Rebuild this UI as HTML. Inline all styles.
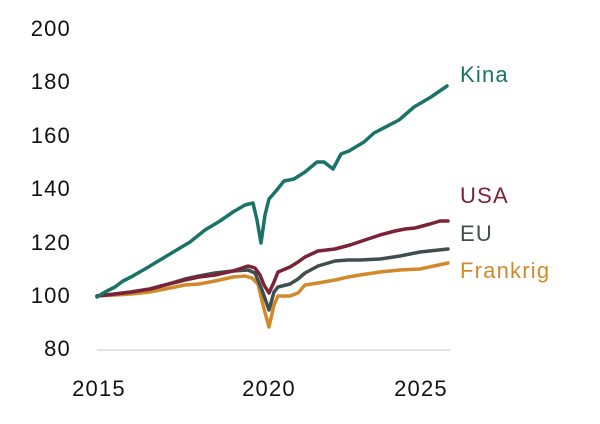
<!DOCTYPE html>
<html><head><meta charset="utf-8"><style>
html,body{margin:0;padding:0;background:#fff;}
svg{display:block;font-family:"Liberation Sans","DejaVu Sans",sans-serif;}
</style></head><body>
<svg width="600" height="424" viewBox="0 0 600 424" xmlns="http://www.w3.org/2000/svg">
<g font-size="22" fill="#111" text-anchor="end" letter-spacing="1.2">
<text x="71" y="36">200</text>
<text x="71" y="89">180</text>
<text x="71" y="143">160</text>
<text x="71" y="196">140</text>
<text x="71" y="250">120</text>
<text x="71" y="303">100</text>
<text x="71" y="356">80</text>
</g>
<line x1="97" y1="350" x2="450" y2="350" stroke="#d8d8d8" stroke-width="1.5"/>
<g font-size="22" fill="#111" text-anchor="middle" letter-spacing="1.2">
<text x="99" y="396">2015</text>
<text x="269" y="396">2020</text>
<text x="421" y="396">2025</text>
</g>
<g fill="none" stroke-width="3.5" stroke-linejoin="round" stroke-linecap="round">
<polyline stroke="#d18a2a" points="97,296 115,295 131,294 150,292 165,289 185,285 199,284 215,281 233,277 245,276 252,278 258,284 263,305 269,327 274,305 278,296 290,296 298,293 305,285 318,283 335,280 348,277 360,275 380,272 400,270 420,269 448,263"/>
<polyline stroke="#3f4e4e" points="97,296 115,294 131,292 150,289 165,285 185,279 199,276 215,273 233,271 248,270 255,273 262,290 269,310 274,292 278,287 290,284 298,279 305,273 318,266 335,261 348,260 360,260 380,259 400,256 420,252 448,249"/>
<polyline stroke="#7a2236" points="97,296 115,294 131,292 150,289 165,285 185,280 199,277 215,275 233,271 248,266 255,268 260,275 264,285 269,293 274,282 278,272 290,267 298,262 305,257 318,251 335,249 350,245 365,240 380,235 395,231 405,229 415,228 430,224 440,221 448,221"/>
<polyline stroke="#1a7268" points="97,297 105,292 115,287 123,281 131,277 145,269 160,260 175,251 190,242 205,230 220,221 233,212 245,205 253,203 257,220 261,243 265,215 269,199 276,191 284,181 294,179 305,172 317,162 324,162 333,169 341,154 349,151 364,142 374,133 399,120 414,107 431,97 447,86"/>
</g>
<g font-size="22" letter-spacing="1.2">
<text x="460" y="82" fill="#1a7268">Kina</text>
<text x="460" y="203" fill="#7a2236">USA</text>
<text x="460" y="241" fill="#3f4e4e">EU</text>
<text x="460" y="278" fill="#d18a2a">Frankrig</text>
</g>
</svg>
</body></html>
